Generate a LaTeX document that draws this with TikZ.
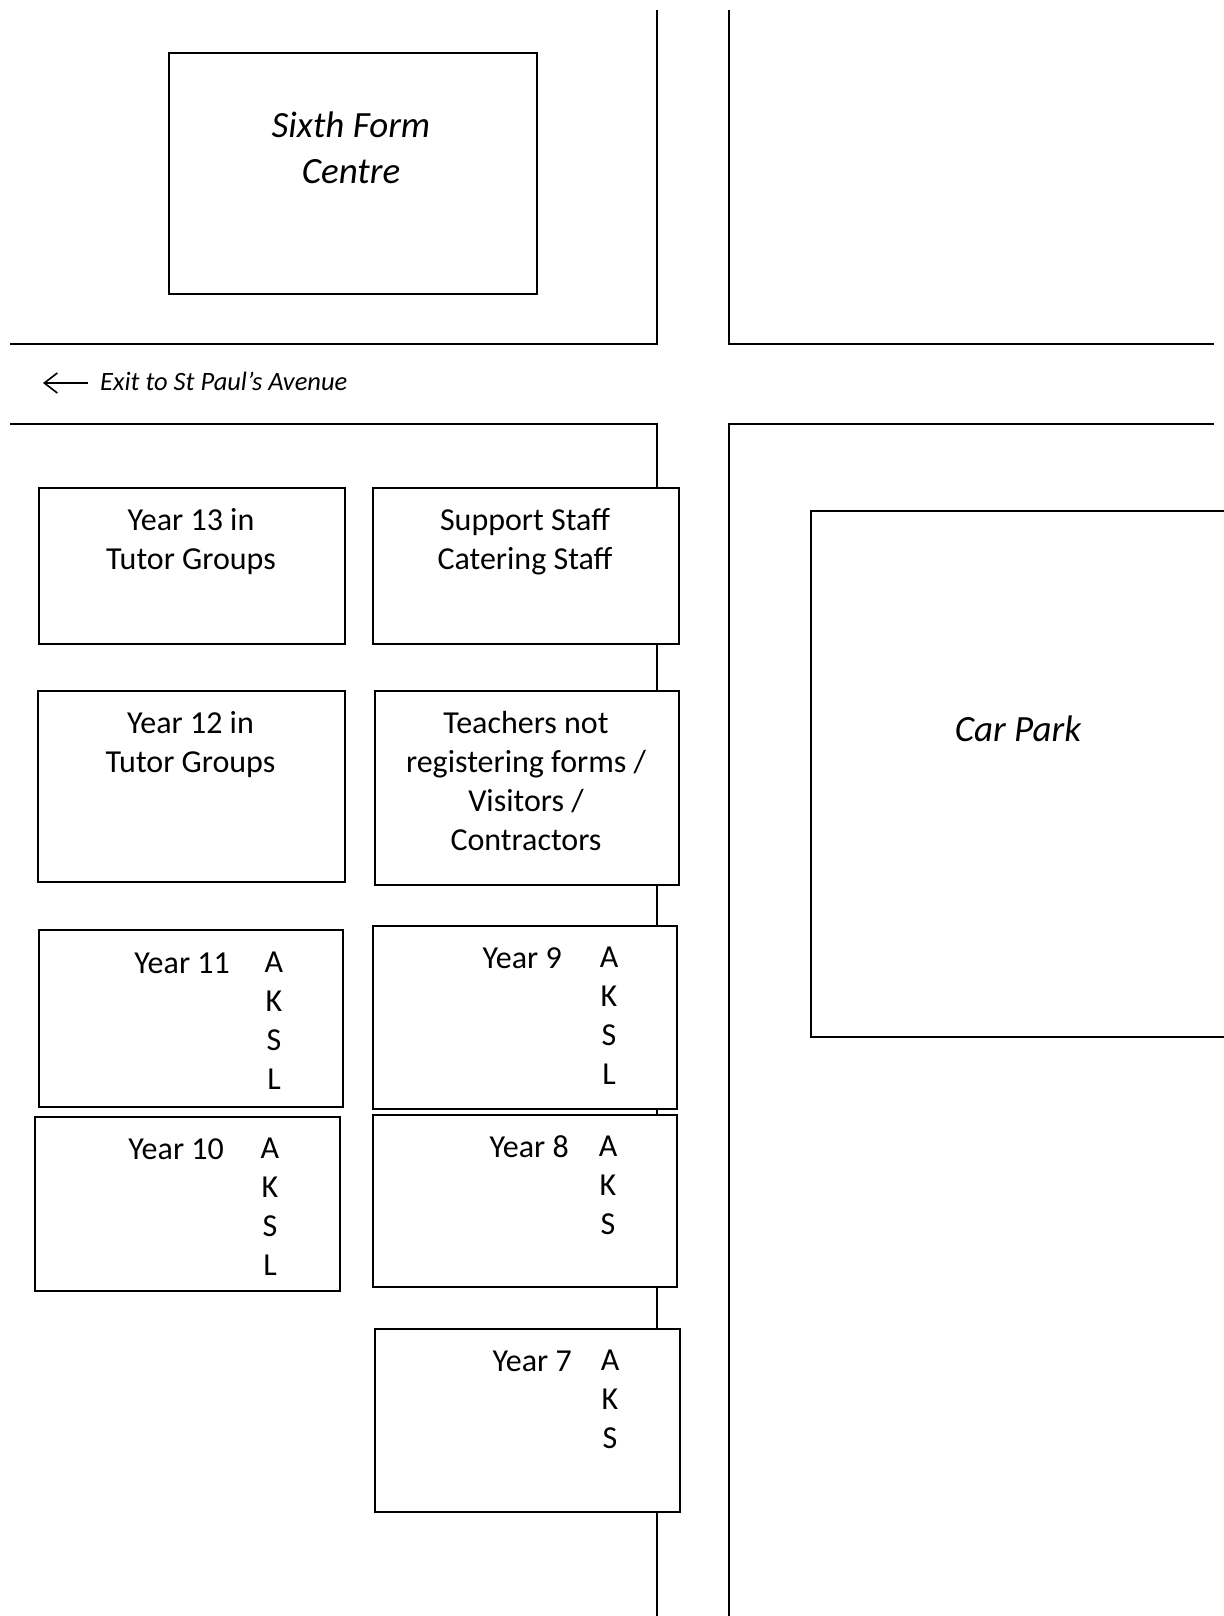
\documentclass[tikz,border=0pt]{standalone}
\usepackage{fontspec}
\setmainfont{Carlito}
\usetikzlibrary{arrows.meta}
\begin{document}
\begin{tikzpicture}[x=1pt,y=-1pt,
  road/.style={line width=2pt, line join=miter},
  room/.style={draw, line width=1.8pt, fill=white, inner sep=0pt, anchor=north west},
  txt/.style={inner sep=0pt, align=center, font=\fontsize{32}{39}\selectfont},
  bigit/.style={inner sep=0pt, align=center, font=\itshape\fontsize{37}{46}\selectfont}
]
\useasboundingbox (0,0) rectangle (1223,1616);
\fill[white] (0,0) rectangle (1223,1616);

% roads
\draw[road] (657,10) -- (657,344) -- (10,344);
\draw[road] (729,10) -- (729,344) -- (1214,344);
\draw[road] (10,424) -- (657,424) -- (657,1616);
\draw[road] (1214,424) -- (729,424) -- (729,1616);

% exit
\coordinate (exitstart) at (88,383);
\coordinate (exittip) at (43,383);
\draw[line width=1.6pt, -{Straight Barb[length=13pt,width=20pt,line width=1.6pt]}] (exitstart) -- (exittip);
\node[anchor=base west, inner sep=0pt, font=\itshape\fontsize{26.5}{31}\selectfont] (exit) at (100,390) {Exit to St Paul’s Avenue};

% sixth form
\node[room, minimum width=368pt, minimum height=241pt] (sixth) at (168,52) {};
\node[bigit, anchor=north] (sixthtxt) at (351,112) {Sixth Form\\Centre};

% car park
\node[room, minimum width=430pt, minimum height=526pt] (car) at (810,510) {};
\node[bigit, anchor=base] (cartxt) at (1018,741) {Car Park};

% top rows
\node[room, minimum width=306pt, minimum height=156pt] (y13) at (38,487) {};
\node[txt, anchor=north] (y13t) at (191,508) {Year 13 in\\Tutor Groups};
\node[room, minimum width=306pt, minimum height=156pt] (sup) at (372,487) {};
\node[txt, anchor=north] (supt) at (525,508) {Support Staff\\Catering Staff};
\node[room, minimum width=307pt, minimum height=191pt] (y12) at (37,690) {};
\node[txt, anchor=north] (y12t) at (190.5,711) {Year 12 in\\Tutor Groups};
\node[room, minimum width=304pt, minimum height=194pt] (tea) at (374,690) {};
\node[txt, anchor=north] (teat) at (526,711) {Teachers not\\registering forms /\\Visitors /\\Contractors};

% year groups
\node[room, minimum width=304pt, minimum height=177pt] (y11) at (38,929) {};
\node[txt, anchor=base east] (y11t) at (230,973) {Year 11};
\node[txt, anchor=north] (y11l) at (274,952) {A\\K\\S\\L};

\node[room, minimum width=304pt, minimum height=183pt] (y9) at (372,925) {};
\node[txt, anchor=base east] (y9t) at (562,968) {Year 9};
\node[txt, anchor=north] (y9l) at (609,947) {A\\K\\S\\L};

\node[room, minimum width=305pt, minimum height=174pt] (y10) at (34,1116) {};
\node[txt, anchor=base east] (y10t) at (224,1159) {Year 10};
\node[txt, anchor=north] (y10l) at (270,1138) {A\\K\\S\\L};

\node[room, minimum width=304pt, minimum height=172pt] (y8) at (372,1114) {};
\node[txt, anchor=base east] (y8t) at (569,1157) {Year 8};
\node[txt, anchor=north] (y8l) at (608,1136) {A\\K\\S};

\node[room, minimum width=305pt, minimum height=183pt] (y7) at (374,1328) {};
\node[txt, anchor=base east] (y7t) at (572,1371) {Year 7};
\node[txt, anchor=north] (y7l) at (610,1350) {A\\K\\S};
\end{tikzpicture}
\end{document}
